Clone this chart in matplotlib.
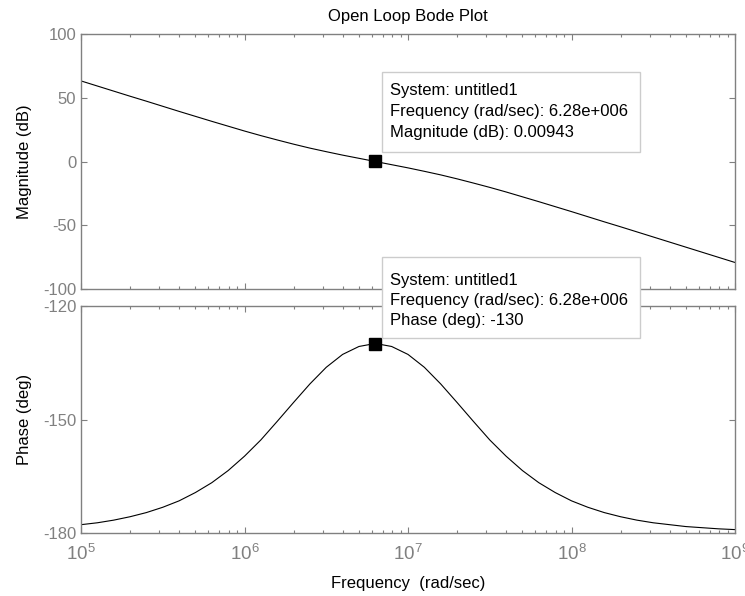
import numpy as np
import matplotlib
matplotlib.use("Agg")
import matplotlib.pyplot as plt
from matplotlib.patches import Rectangle

plt.rcParams['font.family'] = ['Liberation Sans', 'DejaVu Sans']
plt.rcParams['mathtext.fontset'] = 'custom'
plt.rcParams['mathtext.rm'] = 'Liberation Sans'
plt.rcParams['mathtext.it'] = 'Liberation Sans:italic'
plt.rcParams['axes.unicode_minus'] = False

# log10 of frequency (rad/sec), read every 0.1 decade
log_w = [5.0, 5.1, 5.2, 5.3, 5.4, 5.5, 5.6, 5.7, 5.8, 5.9,
         6.0, 6.1, 6.2, 6.3, 6.4, 6.5, 6.6, 6.7, 6.8, 6.9,
         7.0, 7.1, 7.2, 7.3, 7.4, 7.5, 7.6, 7.7, 7.8, 7.9,
         8.0, 8.1, 8.2, 8.3, 8.4, 8.5, 8.6, 8.7, 8.8, 8.9, 9.0]

mag_db = [63.2, 59.2, 55.2, 51.2, 47.3, 43.3, 39.3, 35.4, 31.5, 27.7,
          23.9, 20.3, 16.9, 13.6, 10.5, 7.7, 5.0, 2.5, 0.0, -2.5,
          -5.0, -7.7, -10.5, -13.6, -16.9, -20.3, -23.9, -27.7, -31.5, -35.4,
          -39.3, -43.3, -47.3, -51.2, -55.2, -59.2, -63.2, -67.2, -71.2, -75.2, -79.2]

phase_deg = [-177.8, -177.3, -176.6, -175.7, -174.6, -173.2, -171.5, -169.3, -166.7, -163.5,
             -159.7, -155.4, -150.5, -145.5, -140.6, -136.2, -132.8, -130.7, -129.9, -130.7,
             -132.8, -136.2, -140.6, -145.5, -150.5, -155.4, -159.7, -163.5, -166.7, -169.3,
             -171.5, -173.2, -174.6, -175.7, -176.6, -177.3, -177.8, -178.3, -178.6, -178.9, -179.1]

tip_w = 6.28e6
tip_mag = 0.00943
tip_phase = -130

mag_yticks = [-100, -50, 0, 50, 100]
phase_yticks = [-180, -150, -120]

tip_mag_lines = ["System: untitled1", "Frequency (rad/sec): 6.28e+006", "Magnitude (dB): 0.00943"]
tip_phase_lines = ["System: untitled1", "Frequency (rad/sec): 6.28e+006", "Phase (deg): -130"]

w = 10.0 ** np.array(log_w)
gray = '#808080'

fig = plt.figure(figsize=(7.45, 5.96), dpi=100)
W, H = 745, 596

def px_axes(l, t, r, b):
    return fig.add_axes([l / W, 1 - b / H, (r - l) / W, (b - t) / H])

ax1 = px_axes(81, 34, 735, 289)
ax2 = px_axes(81, 306, 735, 533)

for ax in (ax1, ax2):
    ax.set_xscale('log')
    ax.set_xlim(1e5, 1e9)
    ax.tick_params(which='both', direction='in', top=True, right=True,
                   color=gray, labelcolor=gray, labelsize=12, width=0.8)
    ax.tick_params(which='major', length=4)
    ax.tick_params(which='minor', length=2.5)
    for s in ax.spines.values():
        s.set_color(gray)
        s.set_linewidth(1.0)

ax1.plot(w, mag_db, color='black', lw=0.8)
ax1.plot([tip_w], [tip_mag], 's', color='black', ms=8.6)
ax1.set_ylim(-100, 100)
ax1.set_yticks(mag_yticks)
ax1.tick_params(labelbottom=False)
ax1.set_ylabel('Magnitude (dB)', fontsize=12, labelpad=8)
ax1.set_title('Open Loop Bode Plot', fontsize=12, pad=9.5)

ax2.plot(w, phase_deg, color='black', lw=0.8)
ax2.plot([tip_w], [tip_phase], 's', color='black', ms=8.6)
ax2.set_ylim(-180, -120)
ax2.set_yticks(phase_yticks)
ax2.set_ylabel('Phase (deg)', fontsize=12, labelpad=8)
ax2.set_xlabel('Frequency  (rad/sec)', fontsize=12, labelpad=9)
ax2.tick_params(axis='x', labelsize=13.5, pad=7.5)

fig.align_ylabels([ax1, ax2])

def data_tip(top, bottom, lines, line_tops):
    fig.patches.append(Rectangle((382 / W, 1 - bottom / H), (640 - 382) / W, (bottom - top) / H,
                                 transform=fig.transFigure, facecolor='white',
                                 edgecolor='#cccccc', lw=1.0, zorder=5))
    for txt, y in zip(lines, line_tops):
        fig.text(390 / W, 1 - y / H, txt, fontsize=12, va='center', ha='left',
                 color='black', zorder=6)

data_tip(72, 152, tip_mag_lines, [91, 112, 133])
data_tip(257, 338, tip_phase_lines, [280, 300, 320])

fig.savefig('out.png', dpi=100)
